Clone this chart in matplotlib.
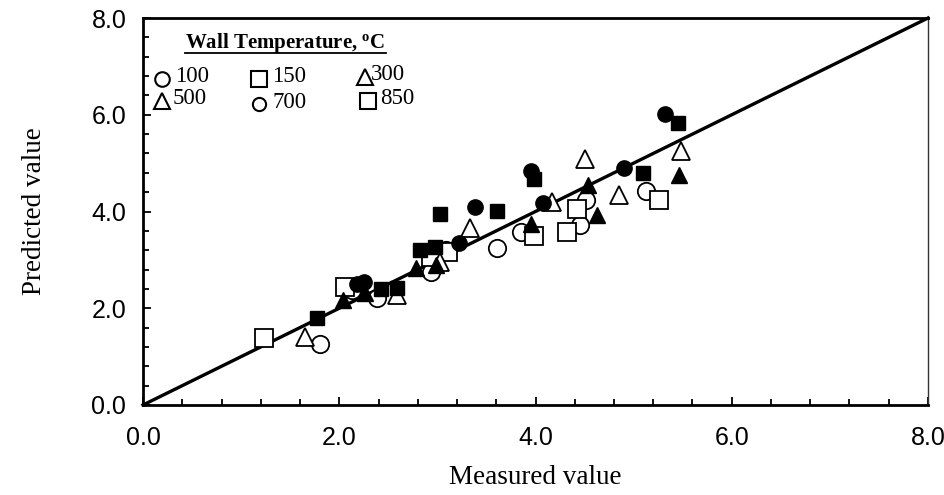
import matplotlib
matplotlib.use("Agg")
import matplotlib.pyplot as plt
from matplotlib.ticker import MultipleLocator, FormatStrFormatter
from matplotlib.lines import Line2D

# Measured vs predicted values grouped by wall temperature (deg C)
meas_100 = [1.80, 2.13, 2.38, 2.93, 3.09, 3.61, 3.85, 4.45, 4.51, 5.13]
pred_100 = [1.26, 2.38, 2.22, 2.75, 3.20, 3.24, 3.58, 3.72, 4.24, 4.43]

meas_150 = [1.23, 2.06, 2.93, 3.11, 3.98, 4.32, 4.42, 5.26]
pred_150 = [1.38, 2.43, 3.05, 3.17, 3.49, 3.57, 4.06, 4.24]

meas_300 = [1.65, 2.59, 3.03, 3.33, 4.17, 4.50, 4.85, 5.48]
pred_300 = [1.41, 2.27, 2.96, 3.65, 4.20, 5.08, 4.34, 5.25]

meas_500 = [2.04, 2.26, 2.78, 2.99, 3.95, 4.54, 4.63, 5.46]
pred_500 = [2.17, 2.31, 2.83, 2.90, 3.75, 4.55, 3.93, 4.75]

meas_700 = [2.18, 2.25, 3.22, 3.38, 3.95, 4.08, 4.90, 5.32]
pred_700 = [2.51, 2.55, 3.34, 4.10, 4.84, 4.17, 4.89, 6.01]

meas_850 = [1.77, 2.43, 2.59, 2.82, 2.98, 3.03, 3.61, 3.98, 5.10, 5.45]
pred_850 = [1.79, 2.39, 2.41, 3.20, 3.27, 3.95, 4.01, 4.67, 4.79, 5.82]

legend_labels = ["100", "150", "300", "500", "700", "850"]
axis_limits = [0.0, 8.0]

SERIF = "Liberation Serif"
SANS = "Liberation Sans"

fig = plt.figure(figsize=(9.45, 4.95), dpi=100)
ax = fig.add_axes([143 / 945, 90 / 495, 785 / 945, 387 / 495])

# 1:1 reference line
ax.plot(axis_limits, axis_limits, color="black", lw=2.4, zorder=2, clip_on=False)

open_kw = dict(linestyle="none", markerfacecolor="white", markeredgecolor="black",
               markeredgewidth=1.3, zorder=3)
fill_kw = dict(linestyle="none", color="black", zorder=4)

ax.plot(meas_100, pred_100, marker="o", markersize=12.5, **open_kw)
ax.plot(meas_150, pred_150, marker="s", markersize=12.5, **open_kw)
ax.plot(meas_300, pred_300, marker="^", markersize=13, **open_kw)
ax.plot(meas_500, pred_500, marker="^", markersize=12, **fill_kw)
ax.plot(meas_700, pred_700, marker="o", markersize=11, **fill_kw)
ax.plot(meas_850, pred_850, marker="s", markersize=10.5, **fill_kw)

ax.set_xlim(axis_limits)
ax.set_ylim(axis_limits)
ax.xaxis.set_major_locator(MultipleLocator(2.0))
ax.xaxis.set_minor_locator(MultipleLocator(0.4))
ax.yaxis.set_major_locator(MultipleLocator(2.0))
ax.yaxis.set_minor_locator(MultipleLocator(0.4))
ax.xaxis.set_major_formatter(FormatStrFormatter("%.1f"))
ax.yaxis.set_major_formatter(FormatStrFormatter("%.1f"))

ax.tick_params(which="both", direction="in", top=False, right=False, width=1.3)
ax.tick_params(which="major", length=6)
ax.tick_params(which="minor", length=4)
ax.tick_params(axis="x", which="major", pad=15)
ax.tick_params(axis="y", which="major", pad=12)
for lab in ax.get_xticklabels() + ax.get_yticklabels():
    lab.set_fontfamily(SANS)
    lab.set_fontsize(18)

for side in ["left", "bottom", "top"]:
    ax.spines[side].set_linewidth(2.0)
ax.spines["right"].set_linewidth(1.0)
ax.spines["right"].set_color("#333333")

ax.set_xlabel("Measured value", fontfamily=SERIF, fontsize=19.5, labelpad=11)
ax.set_ylabel("Predicted value", fontfamily=SERIF, fontsize=19.5, labelpad=32)

# Legend block: underlined bold title and a 3x2 grid of marker keys
def to_ax(px, py):
    return (px - 143) / 785, (405 - py) / 387

tx, ty = to_ax(185, 43)
ax.text(tx, ty, r"Wall Temperature, $\mathregular{^{o}}$C", transform=ax.transAxes,
        fontfamily=SERIF, fontweight="bold", fontsize=15, ha="left", va="center")
ux0, uy = to_ax(185, 53)
ux1, _ = to_ax(386, 53)
ax.add_line(Line2D([ux0, ux1], [uy, uy], transform=ax.transAxes, color="black", lw=1.3))

key_specs = [
    ("o", 10.5, 162, 79, 175),
    ("s", 11, 259, 79, 272),
    ("^", 12, 365, 77, 371),
    ("^", 12, 162, 101, 173),
    ("o", 9.5, 259, 104, 272),
    ("s", 11, 368, 101, 380),
]
for (mk, ms, mx, my, lx), lab in zip(key_specs, legend_labels):
    ax_x, ax_y = to_ax(mx, my)
    ax.plot([ax_x], [ax_y], marker=mk, markersize=ms, transform=ax.transAxes,
            linestyle="none", markerfacecolor="white", markeredgecolor="black",
            markeredgewidth=1.5, clip_on=False, zorder=5)
    lx_a, ly_a = to_ax(lx, my - 2)
    ax.text(lx_a, ly_a, lab, transform=ax.transAxes, fontfamily=SERIF,
            fontsize=16.5, ha="left", va="center")

fig.savefig("out.png", dpi=100)
